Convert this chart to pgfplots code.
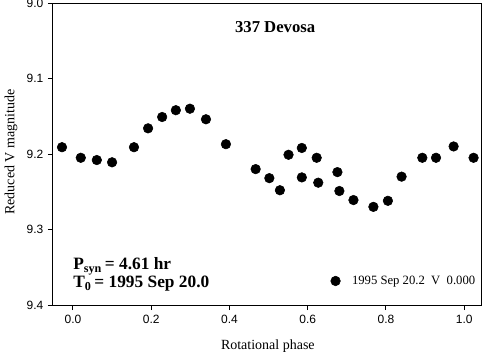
\documentclass[border=0pt]{standalone}
\usepackage{pgfplots}
\pgfplotsset{compat=1.18}
\usepackage{fontspec}
\setmainfont{Liberation Serif}
\newfontfamily\ticksans{Liberation Sans}
\begin{document}
\begin{tikzpicture}
\begin{axis}[
  name=ax, at={(0,0)}, anchor=south west,
  width=321pt, height=226.5pt, scale only axis,
  xmin=-0.051, xmax=1.043, ymin=9.0, ymax=9.4,
  y dir=reverse,
  xtick={0,0.2,0.4,0.6,0.8,1.0},
  ytick={9.0,9.1,9.2,9.3,9.4},
  xtick pos=bottom, ytick pos=left, tick align=outside,
  major tick length=3.75pt,
  axis line style={line width=0.75pt},
  every tick/.style={black, line width=0.75pt},
  /pgf/number format/assume math mode=true,
  /pgf/number format/.cd, fixed, fixed zerofill, precision=1, /pgfplots/.cd,
  tick label style={font=\ticksans\fontsize{9}{10}\selectfont},
  xlabel={Rotational phase},
  ylabel={Reduced V magnitude},
  label style={font=\fontsize{10.5}{12}\selectfont},
  xlabel style={at={(axis description cs:0.502,-0.1358)}, anchor=center},
  ylabel style={at={(axis description cs:-0.098,0.5066)}, anchor=center},
  legend style={at={(axis description cs:0.639,0.0795)}, anchor=west, draw=none, fill=none,
    font=\fontsize{9.5}{11}\selectfont,
    /tikz/every odd column/.append style={column sep=6.75pt}},
  legend cell align=left,
]
\addplot[only marks, mark=*, mark size=3.6pt, black] table {
x y
-0.028 9.191
0.020 9.205
0.061 9.208
0.100 9.211
0.156 9.191
0.192 9.166
0.228 9.151
0.263 9.142
0.299 9.140
0.340 9.154
0.391 9.187
0.467 9.220
0.502 9.232
0.529 9.248
0.551 9.201
0.585 9.192
0.585 9.231
0.623 9.205
0.627 9.238
0.676 9.224
0.681 9.249
0.717 9.261
0.768 9.270
0.805 9.262
0.840 9.230
0.893 9.205
0.928 9.205
0.973 9.190
1.024 9.205
};
\addlegendentry{1995 Sep 20.2\ \ V\ \ 0.000}
\node[anchor=center, font=\bfseries\fontsize{12.5}{14}\selectfont] at (axis description cs:0.519,0.9205) {337 Devosa};
\node[anchor=base west, font=\bfseries\fontsize{13}{15}\selectfont, inner sep=0pt] at (axis description cs:0.0467,0.1159) {P\textsubscript{syn}\,= 4.61 hr};
\node[anchor=base west, font=\bfseries\fontsize{13}{15}\selectfont, inner sep=0pt] at (axis description cs:0.0467,0.0563) {T\textsubscript{0}\,= 1995 Sep 20.0};
\end{axis}
\pgfresetboundingbox
\path[use as bounding box] (-39.75pt,-38.25pt) rectangle (324pt,228.75pt);
\end{tikzpicture}
\end{document}
